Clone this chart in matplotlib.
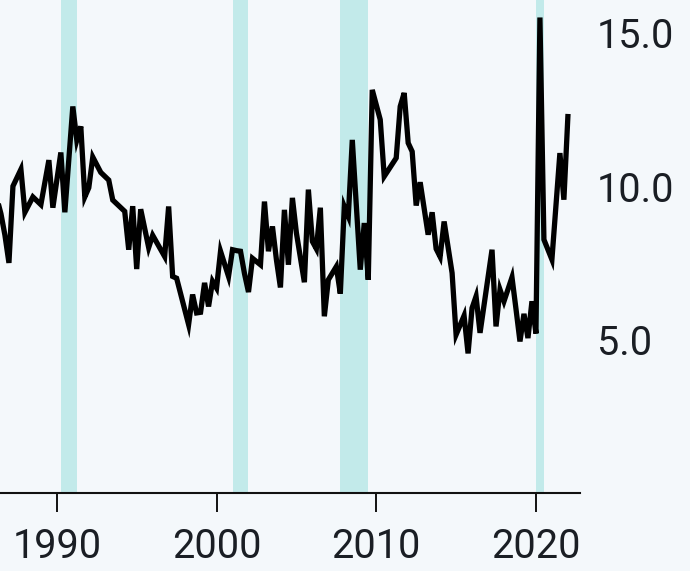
import matplotlib
matplotlib.use('Agg')
import matplotlib.pyplot as plt
from matplotlib.ticker import FormatStrFormatter

# quarterly vertices
years = [1986.25, 1986.5, 1986.75, 1987.0, 1987.25, 1987.75, 1988.0, 1988.5, 1989.0,
         1989.5, 1989.75, 1990.25, 1990.5, 1991.0, 1991.25, 1991.5, 1991.75, 1992.0,
         1992.25, 1992.75, 1993.25, 1993.5, 1994.25, 1994.5, 1994.75, 1995.0, 1995.25,
         1995.75, 1996.0, 1996.75, 1997.0, 1997.25, 1997.5, 1998.25, 1998.5, 1998.75,
         1999.0, 1999.25, 1999.5, 1999.75, 2000.0, 2000.25, 2000.75, 2001.0, 2001.25,
         2001.5, 2001.75, 2002.0, 2002.25, 2002.75, 2003.0, 2003.25, 2003.5, 2003.75,
         2004.0, 2004.25, 2004.5, 2004.75, 2005.0, 2005.5, 2005.75, 2006.0, 2006.25,
         2006.5, 2006.75, 2007.0, 2007.5, 2007.75, 2008.0, 2008.25, 2008.5, 2009.0,
         2009.25, 2009.5, 2009.75, 2010.25, 2010.5, 2011.25, 2011.5, 2011.75, 2012.0,
         2012.25, 2012.5, 2012.75, 2013.25, 2013.5, 2013.75, 2014.0, 2014.25, 2014.75,
         2015.0, 2015.5, 2015.75, 2016.0, 2016.25, 2016.5, 2017.25, 2017.5, 2017.75,
         2018.0, 2018.5, 2018.75, 2019.0, 2019.25, 2019.5, 2019.75, 2020.0, 2020.25,
         2020.5, 2021.0, 2021.5, 2021.75, 2022.0]
values = [9.6, 9.1, 8.4, 7.5, 10.0, 10.55, 9.15, 9.65, 9.4,
          10.85, 9.3, 11.1, 9.15, 12.6, 11.5, 11.95, 9.65, 9.95,
          10.95, 10.45, 10.2, 9.55, 9.18, 7.93, 9.35, 7.3, 9.25,
          8.0, 8.4, 7.71, 9.34, 7.06, 7.0, 5.49, 6.47, 5.87,
          5.89, 6.85, 6.08, 6.9, 6.68, 7.88, 7.06, 7.93, 7.9,
          7.88, 7.15, 6.55, 7.65, 7.44, 9.5, 7.88, 8.69, 7.6,
          6.7, 9.23, 7.44, 9.62, 8.48, 6.87, 9.89, 8.2, 7.96,
          9.3, 5.76, 6.95, 7.38, 6.5, 9.34, 9.02, 11.51, 7.28,
          8.8, 6.95, 13.14, 12.17, 10.32, 10.92, 12.6, 13.04, 11.41,
          11.13, 9.37, 10.13, 8.42, 9.15, 7.96, 7.7, 8.85, 7.17,
          5.16, 5.78, 4.55, 6.03, 6.41, 5.22, 7.93, 5.43, 6.63,
          6.25, 7.03, 6.0, 4.94, 5.84, 5.05, 6.25, 5.2, 15.5,
          8.26, 7.61, 11.08, 9.56, 12.27]

# recession bands (start, end)
rec_start = [1990.25, 2001.0, 2007.75, 2020.0]
rec_end = [1991.25, 2002.0, 2009.5, 2020.5]

x_ticks = [1990, 2000, 2010, 2020]
y_ticks = [5.0, 10.0, 15.0]

bg = '#f4f8fb'
plt.rcParams['font.family'] = ['Roboto', 'DejaVu Sans']

fig = plt.figure(figsize=(6.9, 5.71), dpi=100, facecolor=bg)
ax = fig.add_axes([0.0, 0.1366, 0.8406, 0.8634])
ax.set_facecolor(bg)

for s, e in zip(rec_start, rec_end):
    ax.axvspan(s, e, color='#c2eaea', lw=0, zorder=1)

ax.plot(years, values, color='black', lw=3.8, solid_joinstyle='miter', zorder=3)

ax.set_xlim(1986.44, 2022.76)
ax.set_ylim(0, 16.07)

ax.set_xticks(x_ticks)
ax.set_yticks(y_ticks)
ax.yaxis.set_major_formatter(FormatStrFormatter('%.1f'))
ax.yaxis.tick_right()

for side in ['top', 'left', 'right']:
    ax.spines[side].set_visible(False)
ax.spines['bottom'].set_linewidth(1.5)
ax.spines['bottom'].set_color('#111111')

ax.tick_params(axis='x', length=13.5, width=1.4, color='#111111', pad=11,
               labelsize=28.5, labelcolor='#1a1e24')
ax.tick_params(axis='y', length=0, pad=12, labelsize=28.5, labelcolor='#1a1e24')

fig.savefig('out.png', dpi=100, facecolor=bg)
